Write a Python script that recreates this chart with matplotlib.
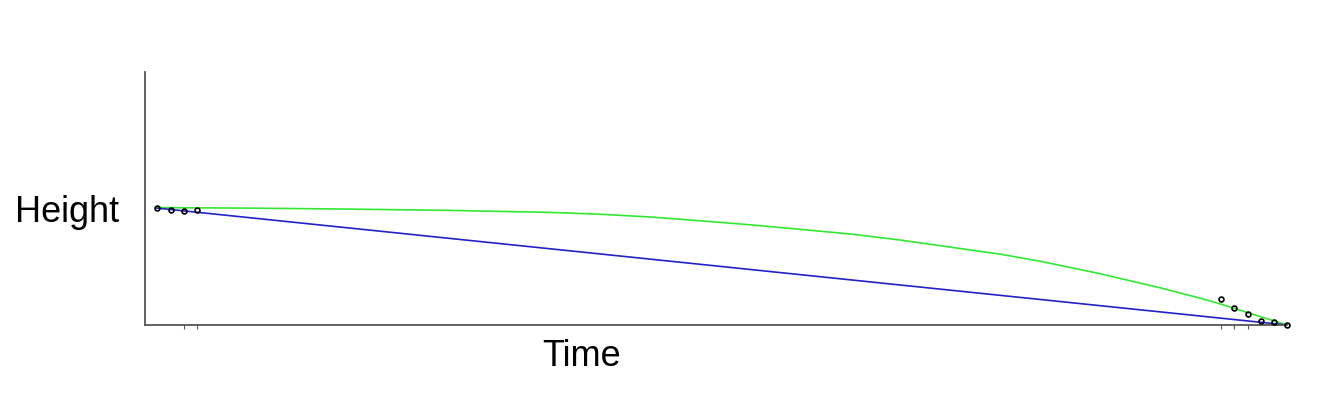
import matplotlib
matplotlib.use("Agg")
import matplotlib.pyplot as plt

# Observed points (time, height) in arbitrary units
obs_time = [1.05, 2.28, 3.42, 4.55, 94.2, 95.4, 96.6, 97.7, 98.9, 100.0]
obs_height = [46.2, 45.5, 45.1, 45.5, 10.2, 6.8, 4.4, 1.7, 1.3, 0.0]

# Blue straight model
lin_time = [1.05, 100.0]
lin_height = [46.2, 0.0]

# Green curved model
curve_time = [1.05, 9.2, 17.95, 26.7, 35.5, 39.8, 44.2, 48.6, 53.0, 57.4,
              61.7, 66.1, 70.5, 74.9, 78.4, 83.6, 88.9, 92.4, 94.1, 95.3,
              97.6, 100.0]
curve_height = [46.4, 46.2, 45.8, 45.3, 44.5, 43.8, 42.7, 41.2, 39.6, 37.8,
                36.0, 33.6, 30.8, 28.0, 25.2, 20.3, 14.7, 10.6, 8.4, 6.7,
                3.4, 0.0]

tick_times = [3.42, 4.55, 94.2, 95.4, 96.6]

fig = plt.figure(figsize=(13.37, 4.05), dpi=100)
ax = fig.add_axes([145/1337, 1-325/405, (1287-145)/1337, (325-72)/405])

ax.plot(curve_time, curve_height, color='#33e833', lw=1.2)
ax.plot(lin_time, lin_height, color='#2222c8', lw=1.2)
ax.plot(obs_time, obs_height, 'o', mfc='none', mec='black', ms=3.5, mew=1.2,
        clip_on=False, zorder=5)

ax.set_xlim(0, 100)
ax.set_ylim(0, 100)
for s in ['top', 'right']:
    ax.spines[s].set_visible(False)
for s in ['left', 'bottom']:
    ax.spines[s].set_color('#555555')
    ax.spines[s].set_linewidth(1.3)
ax.set_yticks([])
ax.set_xticks(tick_times)
ax.set_xticklabels([])
ax.tick_params(axis='x', length=3, width=0.8, color='#555555', direction='out')

fig.text(67/1337, 1-213/405, 'Height', fontsize=26, family='Liberation Sans',
         ha='center', va='center')
fig.text(582/1337, 1-357/405, 'Time', fontsize=26, family='Liberation Sans',
         ha='center', va='center')

fig.savefig('out.png', dpi=100)
